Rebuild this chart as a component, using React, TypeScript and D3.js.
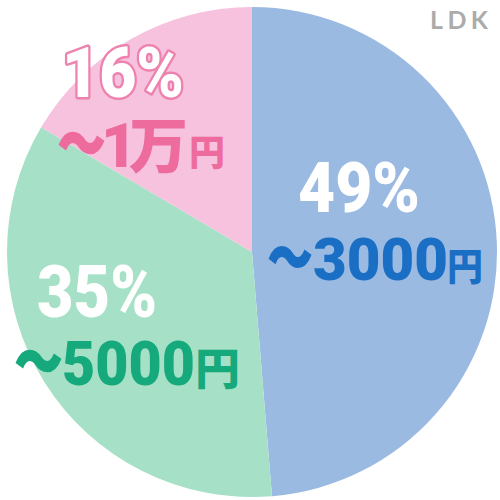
import React from "react";
import * as d3 from "d3";

// Data
const categories = ["〜3000円", "〜5000円", "〜1万円"];
const percentLabels = ["49%", "35%", "16%"];
const sliceValues = [48.7, 34.8, 16.5];
const sliceColors = ["#9bbae2", "#a6e1c7", "#f6c2de"];
const textColors = ["#1a6fc5", "#15a97c", "#ee6b9d"];

const W = 500;
const H = 500;
const cx = 252;
const cy = 252;
const R = 245;

const DIGIT_FONT = "Roboto, 'Noto Sans', sans-serif";
const CJK_FONT = "'Noto Sans CJK JP', sans-serif";

type Box = { x: number; y: number; len?: number; size: number };
type LabelLayout = {
  pct: Box;
  tilde: Box;
  num: Box;
  man?: Box;
  yen: Box;
  outline?: boolean;
};

const layouts: LabelLayout[] = [
  {
    pct: { x: 298, y: 212, len: 122, size: 70 },
    tilde: { x: 268, y: 280, len: 44, size: 60 },
    num: { x: 313, y: 280, len: 135, size: 60 },
    yen: { x: 447, y: 280, len: 36, size: 38 },
  },
  {
    pct: { x: 37, y: 317, len: 120, size: 72 },
    tilde: { x: 15, y: 385, len: 47, size: 62 },
    num: { x: 62, y: 385, len: 133, size: 62 },
    yen: { x: 195, y: 385, len: 45, size: 44 },
  },
  {
    pct: { x: 62, y: 97, len: 122, size: 70 },
    tilde: { x: 58, y: 167, len: 47, size: 62 },
    num: { x: 101, y: 167, size: 62 },
    man: { x: 129, y: 168, len: 59, size: 60 },
    yen: { x: 189, y: 166, len: 36, size: 36 },
    outline: true,
  },
];

function splitLabel(label: string) {
  const tilde = label.slice(0, 1);
  const rest = label.slice(1, -1);
  const yen = label.slice(-1);
  const digits = rest.replace(/[^0-9]/g, "");
  const kanji = rest.replace(/[0-9]/g, "");
  return { tilde, digits, kanji, yen };
}

function lenProps(b: Box) {
  return b.len ? { textLength: b.len, lengthAdjust: "spacingAndGlyphs" as const } : {};
}

export default function App() {
  const pie = d3
    .pie<number>()
    .sort(null)
    .value((d) => d)
    .startAngle(0)
    .endAngle(2 * Math.PI);
  const arcs = pie(sliceValues);
  const arcGen = d3.arc<d3.PieArcDatum<number>>().innerRadius(0).outerRadius(R);

  return (
    <svg
      width={W}
      height={H}
      viewBox={`0 0 ${W} ${H}`}
      style={{ position: "absolute", left: 0, top: 0, background: "#ffffff" }}
    >
      <rect x={0} y={0} width={W} height={H} fill="#ffffff" />
      <g transform={`translate(${cx},${cy})`}>
        {arcs.map((a, i) => (
          <path key={i} d={arcGen(a) || ""} fill={sliceColors[i]} />
        ))}
      </g>
      {categories.map((cat, i) => {
        const L = layouts[i];
        const parts = splitLabel(cat);
        const col = textColors[i];
        return (
          <g key={cat}>
            <text
              x={L.pct.x}
              y={L.pct.y}
              fontFamily={DIGIT_FONT}
              fontWeight={900}
              fontSize={L.pct.size}
              fill="#ffffff"
              stroke={L.outline ? "#ee82ae" : "none"}
              strokeWidth={L.outline ? 5 : 0}
              strokeLinejoin="round"
              paintOrder="stroke"
              {...lenProps(L.pct)}
            >
              {percentLabels[i]}
            </text>
            <text fill={col} fontWeight={900}>
              <tspan
                x={L.tilde.x}
                y={L.tilde.y}
                fontFamily={CJK_FONT}
                fontSize={L.tilde.size}
                stroke={col}
                strokeWidth={2}
                {...lenProps(L.tilde)}
              >
                {parts.tilde}
              </tspan>
              <tspan
                x={L.num.x}
                y={L.num.y}
                fontFamily={DIGIT_FONT}
                fontSize={L.num.size}
                {...lenProps(L.num)}
              >
                {parts.digits}
              </tspan>
              {L.man && parts.kanji && (
                <tspan
                  x={L.man.x}
                  y={L.man.y}
                  fontFamily={CJK_FONT}
                  fontSize={L.man.size}
                  {...lenProps(L.man)}
                >
                  {parts.kanji}
                </tspan>
              )}
              <tspan
                x={L.yen.x}
                y={L.yen.y}
                fontFamily={CJK_FONT}
                fontSize={L.yen.size}
                {...lenProps(L.yen)}
              >
                {parts.yen}
              </tspan>
            </text>
          </g>
        );
      })}
      <text
        x={430}
        y={29}
        fontFamily="Lato, 'Open Sans', sans-serif"
        fontWeight={700}
        fontSize={25}
        fill="#ababab"
        textLength={58}
        lengthAdjust="spacing"
      >
        LDK
      </text>
    </svg>
  );
}
